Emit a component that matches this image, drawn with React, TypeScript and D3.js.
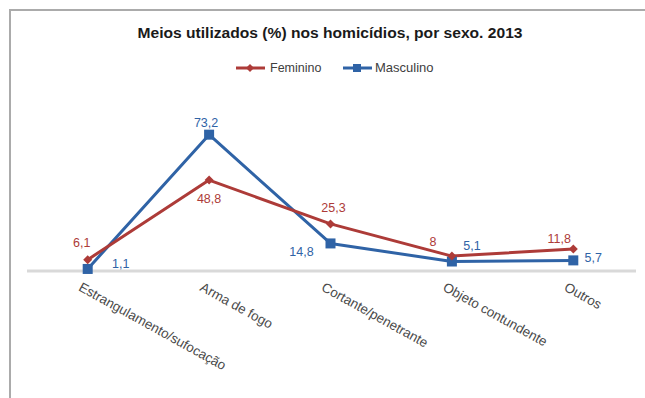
import React from "react";
import * as d3 from "d3";

const categories = [
  "Estrangulamento/sufocação",
  "Arma de fogo",
  "Cortante/penetrante",
  "Objeto contundente",
  "Outros",
];
const feminino = [6.1, 48.8, 25.3, 8, 11.8];
const masculino = [1.1, 73.2, 14.8, 5.1, 5.7];
const feminino_labels = ["6,1", "48,8", "25,3", "8", "11,8"];
const masculino_labels = ["1,1", "73,2", "14,8", "5,1", "5,7"];
const title = "Meios utilizados (%) nos homicídios, por sexo. 2013";

// label offsets (styling)
const femOffsets: [number, number][] = [[-6, -17], [0, 19], [3, -16], [-19, -14], [-14, -10]];
const mascOffsets: [number, number][] = [[33, -5], [-3, -12], [-29, 9], [20, -16], [20, -2]];

const RED = "#ad3b38";
const BLUE = "#2f63a6";

export default function App() {
  const W = 645, H = 398;
  const x = d3.scaleBand<string>().domain(categories).range([27, 634]);
  const cx = (c: string) => (x(c) as number) + x.bandwidth() / 2;
  const y = d3.scaleLinear().domain([0, 80]).range([271, 122]);
  const line = d3.line<number>().x((_, i) => cx(categories[i])).y((d) => y(d));

  const diamond = (px: number, py: number, r: number) =>
    `M${px},${py - r}L${px + r},${py}L${px},${py + r}L${px - r},${py}Z`;

  return (
    <div style={{ position: "absolute", left: 0, top: 0 }}>
      <svg width={W} height={H} style={{ display: "block", fontFamily: "Arial, 'Liberation Sans', sans-serif" }}>
        <rect x={0} y={0} width={W} height={H} fill="#ffffff" />
        <rect x={10} y={10} width={W + 10} height={H + 10} fill="#ffffff" stroke="#ababab" strokeWidth={2} />
        <text x={330} y={38} textAnchor="middle" fontSize={14} fontWeight="bold" fill="#1a1a1a"
          textLength={385} lengthAdjust="spacingAndGlyphs">
          {title}
        </text>
        {/* legend */}
        <line x1={236} x2={265} y1={68} y2={68} stroke={RED} strokeWidth={3} />
        <path d={diamond(250, 68, 4)} fill={RED} />
        <text x={270} y={72} fontSize={12.5} fill="#404040">Feminino</text>
        <line x1={343} x2={372} y1={68} y2={68} stroke={BLUE} strokeWidth={3} />
        <rect x={353} y={64} width={8} height={8} fill={BLUE} />
        <text x={375} y={72} fontSize={13} fill="#404040">Masculino</text>

        {/* axis line */}
        <line x1={27} x2={636} y1={y(0)} y2={y(0)} stroke="#d9d9d9" strokeWidth={3} />

        {/* series */}
        <path d={line(masculino) as string} fill="none" stroke={BLUE} strokeWidth={3} strokeLinejoin="round" />
        <path d={line(feminino) as string} fill="none" stroke={RED} strokeWidth={3} strokeLinejoin="round" />
        {masculino.map((v, i) => (
          <rect key={"m" + i} x={cx(categories[i]) - 5} y={y(v) - 5} width={10} height={10} fill={BLUE} />
        ))}
        {feminino.map((v, i) => (
          <path key={"f" + i} d={diamond(cx(categories[i]), y(v), 4.5)} fill={RED} />
        ))}
        {feminino.map((v, i) => (
          <text key={"fl" + i} x={cx(categories[i]) + femOffsets[i][0]} y={y(v) + femOffsets[i][1]}
            textAnchor="middle" dominantBaseline="central" fontSize={12.5} fill={RED}>
            {feminino_labels[i]}
          </text>
        ))}
        {masculino.map((v, i) => (
          <text key={"ml" + i} x={cx(categories[i]) + mascOffsets[i][0]} y={y(v) + mascOffsets[i][1]}
            textAnchor="middle" dominantBaseline="central" fontSize={12.5} fill={BLUE}>
            {masculino_labels[i]}
          </text>
        ))}

        {/* x labels */}
        {categories.map((c) => (
          <text key={c} transform={`translate(${cx(c) - 10},${290}) rotate(29)`} fontSize={13.4} fill="#4a4a4a">
            {c}
          </text>
        ))}
      </svg>
    </div>
  );
}
